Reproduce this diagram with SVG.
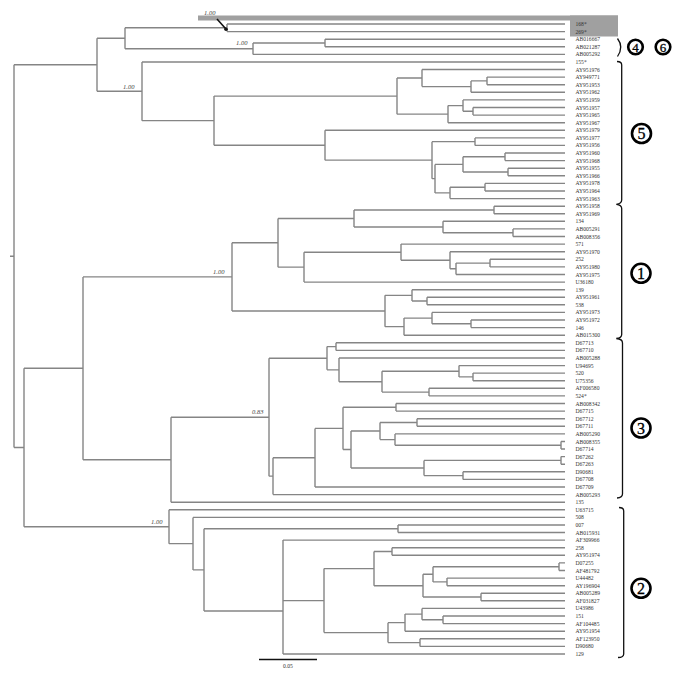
<svg xmlns="http://www.w3.org/2000/svg" width="689" height="679" viewBox="0 0 689 679">
<style>
.br{fill:none;stroke:#858585;stroke-width:1.4}
.lf{font-family:"Liberation Serif",serif;font-size:5.6px;fill:#333}
.bs{font-family:"Liberation Serif",serif;font-size:6.5px;font-style:italic;fill:#444}
.bk{fill:none;stroke:#111;stroke-width:1.3}
.cc{fill:#fff;stroke:#000;stroke-width:2.6}
.cn{font-family:"Liberation Serif",serif;font-size:16px;text-anchor:middle;fill:#000;stroke:#000;stroke-width:0.3}
.cs{font-family:"Liberation Serif",serif;font-size:13px;text-anchor:middle;fill:#000;stroke:#000;stroke-width:0.3}
</style>
<rect width="689" height="679" fill="#fff"/>
<g id="highlight">
<rect x="198" y="15.5" width="420" height="5" fill="#a0a0a0"/>
<rect x="570" y="15.5" width="48" height="21" fill="#a0a0a0"/>
</g>
<g id="branches" class="br">
<path d="M14,64.8V447.5M14,64.8H97M14,447.5H24M10,256.2H14"/>
<path d="M97,38.25V91.3M97,38.25H125M97,91.3H142"/>
<path d="M125,27.8V48.7M125,27.8H227M125,48.7H253"/>
<path d="M227,24V31.6M227,24H565M227,31.6H565"/>
<path d="M253,43V54.4M253,43H325M253,54.4H565"/>
<path d="M325,39.2V46.8M325,39.2H565M325,46.8H565"/>
<path d="M142,62V120.65M142,62H565M142,120.65H214"/>
<path d="M214,96.1V145.2M214,96.1H397M214,145.2H325"/>
<path d="M397,78.05V114.15M397,78.05H422M397,114.15H448"/>
<path d="M422,69.5V86.6M422,69.5H565M422,86.6H471"/>
<path d="M471,80.9V92.3M471,80.9H487M471,92.3H565"/>
<path d="M487,77.1V84.7M487,77.1H565M487,84.7H565"/>
<path d="M448,105.6V122.7M448,105.6H463M448,122.7H565"/>
<path d="M463,99.9V111.3M463,99.9H565M463,111.3H473"/>
<path d="M473,107.5V115.1M473,107.5H565M473,115.1H565"/>
<path d="M325,130.3V160.15M325,130.3H565M325,160.15H432"/>
<path d="M432,141.65V178.65M432,141.65H475M432,178.65H435"/>
<path d="M475,137.9V145.4M475,137.9H565M475,145.4H565"/>
<path d="M435,164.4V192.9M435,164.4H463M435,192.9H450"/>
<path d="M463,156.8V172M463,156.8H505M463,172H508"/>
<path d="M505,153V160.6M505,153H565M505,160.6H565"/>
<path d="M508,168.2V175.8M508,168.2H565M508,175.8H565"/>
<path d="M450,187.2V198.6M450,187.2H485M450,198.6H565"/>
<path d="M485,183.4V191M485,183.4H565M485,191H565"/>
<path d="M24,368.3V526.7M24,368.3H83M24,526.7H169"/>
<path d="M83,276.9V459.7M83,276.9H232M83,459.7H171"/>
<path d="M232,242.8V311M232,242.8H278M232,311H385"/>
<path d="M278,218.5V267.15M278,218.5H354M278,267.15H304"/>
<path d="M354,210V227M354,210H494M354,227H443"/>
<path d="M494,206.2V213.8M494,206.2H565M494,213.8H565"/>
<path d="M443,221.3V232.7M443,221.3H565M443,232.7H513"/>
<path d="M513,228.9V236.5M513,228.9H565M513,236.5H565"/>
<path d="M304,252.2V282.1M304,252.2H401M304,282.1H565"/>
<path d="M401,244.1V260.25M401,244.1H565M401,260.25H450"/>
<path d="M450,251.7V268.8M450,251.7H565M450,268.8H456"/>
<path d="M456,263.1V274.5M456,263.1H490M456,274.5H565"/>
<path d="M490,259.3V266.9M490,259.3H565M490,266.9H565"/>
<path d="M385,295.35V326.65M385,295.35H412M385,326.65H404"/>
<path d="M412,289.7V301M412,289.7H565M412,301H427"/>
<path d="M427,297.2V304.8M427,297.2H565M427,304.8H565"/>
<path d="M404,318.1V335.2M404,318.1H432M404,335.2H565"/>
<path d="M432,312.4V323.8M432,312.4H565M432,323.8H471"/>
<path d="M471,320V327.6M471,320H565M471,327.6H565"/>
<path d="M171,417.2V502.2M171,417.2H269M171,502.2H565"/>
<path d="M269,358.2V476.15M269,358.2H327M269,476.15H273"/>
<path d="M327,346.6V369.85M327,346.6H336M327,369.85H339"/>
<path d="M336,342.8V350.4M336,342.8H565M336,350.4H565"/>
<path d="M339,358V381.7M339,358H565M339,381.7H382"/>
<path d="M382,371.25V392.1M382,371.25H459M382,392.1H429"/>
<path d="M459,365.6V376.9M459,365.6H565M459,376.9H473"/>
<path d="M473,373.1V380.7M473,373.1H565M473,380.7H565"/>
<path d="M429,388.3V395.9M429,388.3H565M429,395.9H565"/>
<path d="M273,457.7V494.6M273,457.7H315M273,494.6H565"/>
<path d="M315,428.4V487M315,428.4H343M315,487H565"/>
<path d="M343,407.3V449.5M343,407.3H396M343,449.5H351"/>
<path d="M396,403.5V411.1M396,403.5H565M396,411.1H565"/>
<path d="M351,431.05V468M351,431.05H380M351,468H424"/>
<path d="M380,422.5V439.6M380,422.5H417M380,439.6H395"/>
<path d="M417,418.7V426.3M417,418.7H565M417,426.3H565"/>
<path d="M395,433.9V445.25M395,433.9H565M395,445.25H561"/>
<path d="M561,441.5V449M561,441.5H565M561,449H565"/>
<path d="M424,460.4V475.6M424,460.4H561M424,475.6H463"/>
<path d="M561,456.6V464.2M561,456.6H565M561,464.2H565"/>
<path d="M463,471.8V479.4M463,471.8H565M463,479.4H565"/>
<path d="M169,509.8V543.65M169,509.8H565M169,543.65H193"/>
<path d="M193,517.4V569.9M193,517.4H565M193,569.9H204"/>
<path d="M204,528.75V611M204,528.75H398M204,611H283"/>
<path d="M398,525V532.5M398,525H565M398,532.5H565"/>
<path d="M283,540.1V654M283,540.1H565M283,600.6H324M283,654H565"/>
<path d="M324,568.6V632.6M324,568.6H374M324,632.6H388"/>
<path d="M374,551.5V585.7M374,551.5H392M374,585.7H423"/>
<path d="M392,547.7V555.3M392,547.7H565M392,555.3H565"/>
<path d="M423,574.3V597.05M423,574.3H433M423,597.05H481"/>
<path d="M433,566.7V581.9M433,566.7H559M433,581.9H447"/>
<path d="M559,562.9V570.5M559,562.9H565M559,570.5H565"/>
<path d="M447,578.1V585.7M447,578.1H565M447,585.7H565"/>
<path d="M481,593.3V600.8M481,593.3H565M481,600.8H565"/>
<path d="M388,622.65V642.6M388,622.65H405M388,642.6H420"/>
<path d="M405,614.1V631.2M405,614.1H422M405,631.2H565"/>
<path d="M422,608.4V619.8M422,608.4H565M422,619.8H443"/>
<path d="M443,616V623.6M443,616H565M443,623.6H565"/>
<path d="M420,638.8V646.4M420,638.8H565M420,646.4H565"/>
</g>
<g id="support">
<text class="bs" x="204" y="15">1.00</text>
<line x1="217" y1="19" x2="225.5" y2="28.5" stroke="#111" stroke-width="1.6"/>
<circle cx="226" cy="29.2" r="1.8" fill="#111"/>
<text class="bs" x="236" y="45">1.00</text>
<text class="bs" x="123" y="89">1.00</text>
<text class="bs" x="213" y="273.5">1.00</text>
<text class="bs" x="252" y="413.5">0.83</text>
<text class="bs" x="151" y="523.5">1.00</text>
</g>
<g id="leaves" class="lf">
<g id="t-168s"><text x="575.5" y="26">168*</text></g>
<g id="t-269s"><text x="575.5" y="33.6">269*</text></g>
<g id="t-AB016667"><text x="575.5" y="41.2">AB016667</text></g>
<g id="t-AB021287"><text x="575.5" y="48.8">AB021287</text></g>
<g id="t-AB005292"><text x="575.5" y="56.4">AB005292</text></g>
<g id="t-155s"><text x="575.5" y="64">155*</text></g>
<g id="t-AY951976"><text x="575.5" y="71.5">AY951976</text></g>
<g id="t-AY949771"><text x="575.5" y="79.1">AY949771</text></g>
<g id="t-AY951953"><text x="575.5" y="86.7">AY951953</text></g>
<g id="t-AY951962"><text x="575.5" y="94.3">AY951962</text></g>
<g id="t-AY951959"><text x="575.5" y="101.9">AY951959</text></g>
<g id="t-AY951957"><text x="575.5" y="109.5">AY951957</text></g>
<g id="t-AY951965"><text x="575.5" y="117.1">AY951965</text></g>
<g id="t-AY951967"><text x="575.5" y="124.7">AY951967</text></g>
<g id="t-AY951979"><text x="575.5" y="132.3">AY951979</text></g>
<g id="t-AY951977"><text x="575.5" y="139.9">AY951977</text></g>
<g id="t-AY951956"><text x="575.5" y="147.4">AY951956</text></g>
<g id="t-AY951960"><text x="575.5" y="155">AY951960</text></g>
<g id="t-AY951968"><text x="575.5" y="162.6">AY951968</text></g>
<g id="t-AY951955"><text x="575.5" y="170.2">AY951955</text></g>
<g id="t-AY951966"><text x="575.5" y="177.8">AY951966</text></g>
<g id="t-AY951978"><text x="575.5" y="185.4">AY951978</text></g>
<g id="t-AY951964"><text x="575.5" y="193">AY951964</text></g>
<g id="t-AY951963"><text x="575.5" y="200.6">AY951963</text></g>
<g id="t-AY951958"><text x="575.5" y="208.2">AY951958</text></g>
<g id="t-AY951969"><text x="575.5" y="215.8">AY951969</text></g>
<g id="t-134"><text x="575.5" y="223.3">134</text></g>
<g id="t-AB005291"><text x="575.5" y="230.9">AB005291</text></g>
<g id="t-AB008356"><text x="575.5" y="238.5">AB008356</text></g>
<g id="t-571"><text x="575.5" y="246.1">571</text></g>
<g id="t-AY951970"><text x="575.5" y="253.7">AY951970</text></g>
<g id="t-252"><text x="575.5" y="261.3">252</text></g>
<g id="t-AY951980"><text x="575.5" y="268.9">AY951980</text></g>
<g id="t-AY951975"><text x="575.5" y="276.5">AY951975</text></g>
<g id="t-U36180"><text x="575.5" y="284.1">U36180</text></g>
<g id="t-139"><text x="575.5" y="291.7">139</text></g>
<g id="t-AY951961"><text x="575.5" y="299.2">AY951961</text></g>
<g id="t-538"><text x="575.5" y="306.8">538</text></g>
<g id="t-AY951973"><text x="575.5" y="314.4">AY951973</text></g>
<g id="t-AY951972"><text x="575.5" y="322">AY951972</text></g>
<g id="t-146"><text x="575.5" y="329.6">146</text></g>
<g id="t-AB015300"><text x="575.5" y="337.2">AB015300</text></g>
<g id="t-D67713"><text x="575.5" y="344.8">D67713</text></g>
<g id="t-D67710"><text x="575.5" y="352.4">D67710</text></g>
<g id="t-AB005288"><text x="575.5" y="360">AB005288</text></g>
<g id="t-U94695"><text x="575.5" y="367.6">U94695</text></g>
<g id="t-520"><text x="575.5" y="375.1">520</text></g>
<g id="t-U75356"><text x="575.5" y="382.7">U75356</text></g>
<g id="t-AF006580"><text x="575.5" y="390.3">AF006580</text></g>
<g id="t-524s"><text x="575.5" y="397.9">524*</text></g>
<g id="t-AB008342"><text x="575.5" y="405.5">AB008342</text></g>
<g id="t-D67715"><text x="575.5" y="413.1">D67715</text></g>
<g id="t-D67712"><text x="575.5" y="420.7">D67712</text></g>
<g id="t-D67711"><text x="575.5" y="428.3">D67711</text></g>
<g id="t-AB005290"><text x="575.5" y="435.9">AB005290</text></g>
<g id="t-AB008355"><text x="575.5" y="443.5">AB008355</text></g>
<g id="t-D67714"><text x="575.5" y="451">D67714</text></g>
<g id="t-D67262"><text x="575.5" y="458.6">D67262</text></g>
<g id="t-D67263"><text x="575.5" y="466.2">D67263</text></g>
<g id="t-D90681"><text x="575.5" y="473.8">D90681</text></g>
<g id="t-D67708"><text x="575.5" y="481.4">D67708</text></g>
<g id="t-D67709"><text x="575.5" y="489">D67709</text></g>
<g id="t-AB005293"><text x="575.5" y="496.6">AB005293</text></g>
<g id="t-135"><text x="575.5" y="504.2">135</text></g>
<g id="t-U63715"><text x="575.5" y="511.8">U63715</text></g>
<g id="t-508"><text x="575.5" y="519.4">508</text></g>
<g id="t-007"><text x="575.5" y="527">007</text></g>
<g id="t-AB015931"><text x="575.5" y="534.5">AB015931</text></g>
<g id="t-AF309966"><text x="575.5" y="542.1">AF309966</text></g>
<g id="t-258"><text x="575.5" y="549.7">258</text></g>
<g id="t-AY951974"><text x="575.5" y="557.3">AY951974</text></g>
<g id="t-D07255"><text x="575.5" y="564.9">D07255</text></g>
<g id="t-AF481792"><text x="575.5" y="572.5">AF481792</text></g>
<g id="t-U44482"><text x="575.5" y="580.1">U44482</text></g>
<g id="t-AY196904"><text x="575.5" y="587.7">AY196904</text></g>
<g id="t-AB005289"><text x="575.5" y="595.3">AB005289</text></g>
<g id="t-AF031827"><text x="575.5" y="602.8">AF031827</text></g>
<g id="t-U43986"><text x="575.5" y="610.4">U43986</text></g>
<g id="t-151"><text x="575.5" y="618">151</text></g>
<g id="t-AF104485"><text x="575.5" y="625.6">AF104485</text></g>
<g id="t-AY951954"><text x="575.5" y="633.2">AY951954</text></g>
<g id="t-AF123950"><text x="575.5" y="640.8">AF123950</text></g>
<g id="t-D90680"><text x="575.5" y="648.4">D90680</text></g>
<g id="t-129"><text x="575.5" y="656">129</text></g>
</g>
<g id="clade-4-6">
<path class="bk" d="M617.5,38.5Q624,47 617.5,56.5"/>
<circle class="cc" cx="635.5" cy="47" r="7.3"/>
<text class="cs" x="635.5" y="51.6">4</text>
<circle class="cc" cx="663" cy="47" r="7.3"/>
<text class="cs" x="663" y="51.6">6</text>
</g>
<g id="clade-5">
<path class="bk" d="M617,61.5Q621.7,61.5 621.7,65V200Q621.7,203.5 616.5,204.3"/>
<circle class="cc" cx="641.5" cy="133.5" r="9.5"/>
<text class="cn" x="641.5" y="139.2">5</text>
</g>
<g id="clade-1">
<path class="bk" d="M616.5,204.3Q621.7,205 621.7,208.5V334.5Q621.7,338 616.5,338.5"/>
<circle class="cc" cx="641" cy="273.3" r="9.5"/>
<text class="cn" x="641" y="279">1</text>
</g>
<g id="clade-3">
<path class="bk" d="M616.5,338.5Q622.5,339 622.5,343V494Q622.5,497.5 617,498"/>
<circle class="cc" cx="641" cy="428" r="9.5"/>
<text class="cn" x="641" y="433.7">3</text>
</g>
<g id="clade-2">
<path class="bk" d="M619,507.5Q623.7,507.5 623.7,511V654Q623.7,657.5 618,657.5"/>
<circle class="cc" cx="641" cy="588.3" r="9.5"/>
<text class="cn" x="641" y="594">2</text>
</g>
<g id="scale">
<line x1="259" y1="659.5" x2="317" y2="659.5" stroke="#111" stroke-width="1.5"/>
<text class="lf" x="288" y="668" text-anchor="middle">0.05</text>
</g>
</svg>
